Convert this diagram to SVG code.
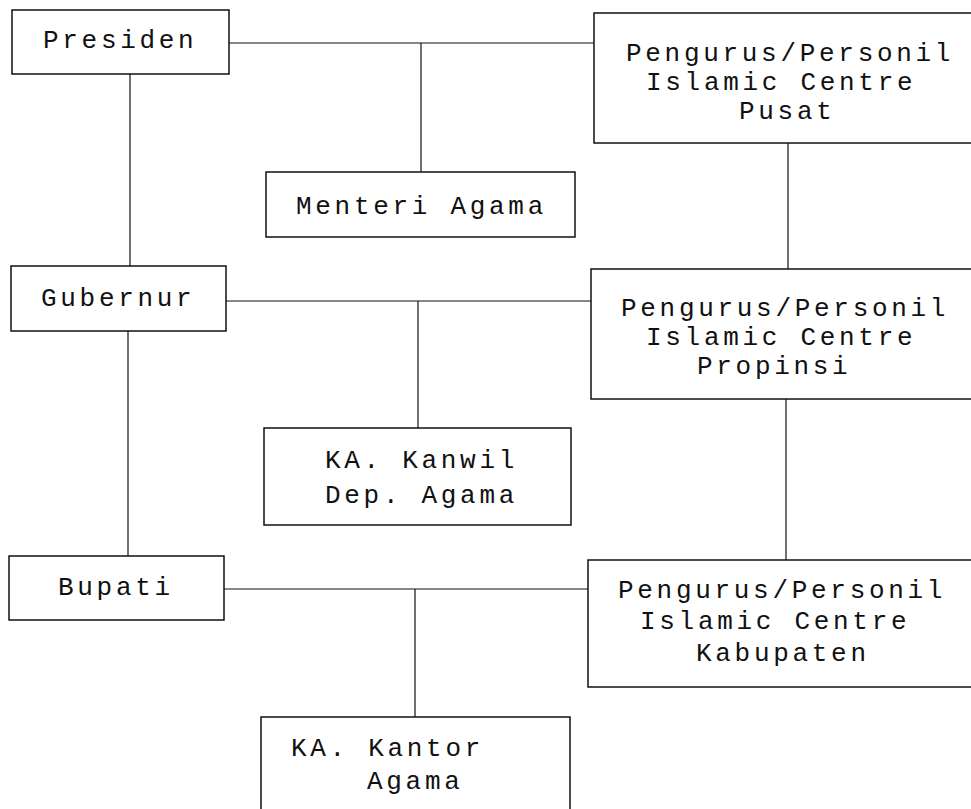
<svg xmlns="http://www.w3.org/2000/svg" width="971" height="809" viewBox="0 0 971 809">
<style>
rect{fill:#fff;stroke:#111;stroke-width:1.5}
line{stroke:#111;stroke-width:1.2}
text{font-family:"Liberation Mono","Courier New",monospace;font-size:26px;letter-spacing:3.7px;fill:#111}
</style>
<rect x="0" y="0" width="971" height="809" style="stroke:none"/>
<g id="connectors">
<line x1="229" y1="43" x2="594" y2="43"/>
<line x1="421" y1="43" x2="421" y2="172"/>
<line x1="130" y1="74" x2="130" y2="266"/>
<line x1="788" y1="143" x2="788" y2="269"/>
<line x1="226" y1="301" x2="591" y2="301"/>
<line x1="418" y1="301" x2="418" y2="428"/>
<line x1="128" y1="331" x2="128" y2="556"/>
<line x1="786" y1="399" x2="786" y2="560"/>
<line x1="224" y1="589" x2="588" y2="589"/>
<line x1="415" y1="589" x2="415" y2="717"/>
</g>
<g id="presiden">
<rect x="12" y="10" width="217" height="64"/>
<text x="43" y="48">Presiden</text>
</g>
<g id="menteri-agama">
<rect x="266" y="172" width="309" height="65"/>
<text x="296" y="214">Menteri Agama</text>
</g>
<g id="ic-pusat">
<rect x="594" y="13" width="390" height="130"/>
<text x="626" y="61">Pengurus/Personil</text>
<text x="646" y="90">Islamic Centre</text>
<text x="739" y="119">Pusat</text>
</g>
<g id="gubernur">
<rect x="11" y="266" width="215" height="65"/>
<text x="41" y="306">Gubernur</text>
</g>
<g id="ka-kanwil">
<rect x="264" y="428" width="307" height="97"/>
<text x="325" y="468">KA. Kanwil</text>
<text x="325" y="503">Dep. Agama</text>
</g>
<g id="ic-propinsi">
<rect x="591" y="269" width="393" height="130"/>
<text x="621" y="316">Pengurus/Personil</text>
<text x="646" y="345">Islamic Centre</text>
<text x="697" y="374">Propinsi</text>
</g>
<g id="bupati">
<rect x="9" y="556" width="215" height="64"/>
<text x="58" y="595">Bupati</text>
</g>
<g id="ka-kantor">
<rect x="261" y="717" width="309" height="110"/>
<text x="291" y="756">KA. Kantor</text>
<text x="367" y="789">Agama</text>
</g>
<g id="ic-kabupaten">
<rect x="588" y="560" width="396" height="127"/>
<text x="618" y="598">Pengurus/Personil</text>
<text x="640" y="629">Islamic Centre</text>
<text x="696" y="661">Kabupaten</text>
</g>
</svg>
